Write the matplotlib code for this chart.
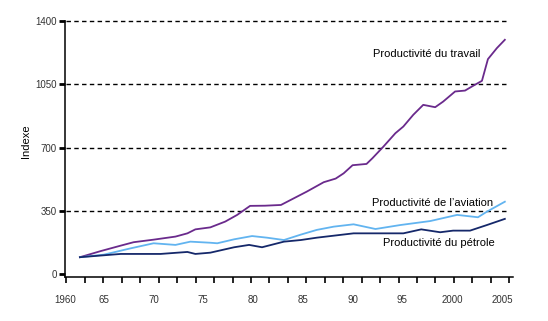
import matplotlib
matplotlib.use("Agg")
import matplotlib.pyplot as plt
import numpy as np
from matplotlib.ticker import FixedLocator

plt.rcParams['font.family'] = ['Liberation Sans Narrow', 'Liberation Sans', 'DejaVu Sans']

# ---- data ----
labour_years = [1962.6, 1964.7, 1966.7, 1968.0, 1970.0, 1972.2, 1973.4, 1974.2, 1975.7,
                1977.2, 1978.4, 1979.7, 1981.2, 1982.8, 1984.1, 1985.4, 1987.1, 1988.3,
                1989.1, 1990.0, 1991.4, 1992.0, 1993.1, 1994.3, 1995.1, 1996.1, 1997.1,
                1998.3, 1999.1, 2000.3, 2001.3, 2002.1, 2003.0, 2003.6, 2004.5, 2005.3]
labour = [93, 127, 157, 176, 190, 207, 225, 247, 258,
          290, 327, 377, 378, 382, 419, 456, 508, 528,
          557, 602, 609, 641, 705, 779, 816, 881, 936,
          923, 954, 1010, 1015, 1041, 1069, 1189, 1250, 1296]

aviation_years = [1962.6, 1965.0, 1967.7, 1970.0, 1972.2, 1973.7, 1975.7, 1976.4, 1978.1,
                  1979.9, 1981.4, 1983.1, 1984.8, 1986.4, 1988.1, 1990.1, 1992.3, 1994.8,
                  1997.8, 2000.5, 2002.6, 2003.5, 2005.3]
aviation = [93, 107, 142, 170, 161, 179, 173, 170, 192,
            210, 201, 188, 218, 244, 262, 275, 249, 271,
            293, 327, 314, 345, 400]

oil_years = [1962.6, 1966.7, 1970.7, 1973.4, 1974.2, 1975.7, 1978.1, 1979.6, 1980.9,
             1983.1, 1984.8, 1986.4, 1988.1, 1990.1, 1995.1, 1996.9, 1998.8, 2000.1,
             2001.8, 2003.5, 2005.3]
oil = [93, 111, 111, 122, 111, 118, 148, 161, 148,
       179, 188, 201, 212, 225, 225, 247, 231, 240,
       240, 271, 305]

y_ticks = [0, 350, 700, 1050, 1400]
y_grid = [350, 700, 1050, 1400]
x_label_pos = [1961.1, 1965, 1970, 1975, 1980, 1985, 1990, 1995, 2000, 2005]
x_labels = ['1960', '65', '70', '75', '80', '85', '90', '95', '2000', '2005']

# ---- figure ----
fig = plt.figure(figsize=(5.48, 3.21), dpi=100)
ax = fig.add_axes([65/548, 44/321, 448/548, 256/321])
ax.set_xlim(1961.19, 2006.12)
ax.set_ylim(-16.6, 1400)

for v in y_grid:
    ax.plot([1961.19, 2005.5], [v, v], color='black', lw=1.0,
            linestyle=(0, (3.2, 2.4)), zorder=1, clip_on=False)

ax.plot(labour_years, labour, color='#6a2a8c', lw=1.3, zorder=3)
ax.plot(aviation_years, aviation, color='#62b4f0', lw=1.3, zorder=3)
ax.plot(oil_years, oil, color='#15286a', lw=1.3, zorder=4)

ax.text(2002.8, 1220, 'Productivité du travail', ha='right', va='center', fontsize=8)
ax.text(2004.1, 395, 'Productivité de l’aviation', ha='right', va='center', fontsize=8)
ax.text(2004.3, 170, 'Productivité du pétrole', ha='right', va='center', fontsize=8)

for s in ['top', 'right']:
    ax.spines[s].set_visible(False)
for s in ['left', 'bottom']:
    ax.spines[s].set_linewidth(1.1)

ax.set_yticks(y_ticks)
ax.set_yticklabels([str(v) for v in y_ticks])
ax.tick_params(axis='y', length=4.5, width=2, pad=1.5, labelsize=7, labelcolor='#333333')

ax.set_xticks(x_label_pos)
ax.set_xticklabels(x_labels)
ax.tick_params(axis='x', which='major', length=0, pad=13, labelsize=7, labelcolor='#333333')
ax.xaxis.set_minor_locator(FixedLocator(np.linspace(1961.25, 2005.74, 25)))
ax.tick_params(axis='x', which='minor', length=4.5, width=1.2, direction='out')

ax.set_ylabel('Indexe', fontsize=8)
ax.yaxis.set_label_coords(-0.075, 0.53)

fig.savefig('out.png', dpi=100)
